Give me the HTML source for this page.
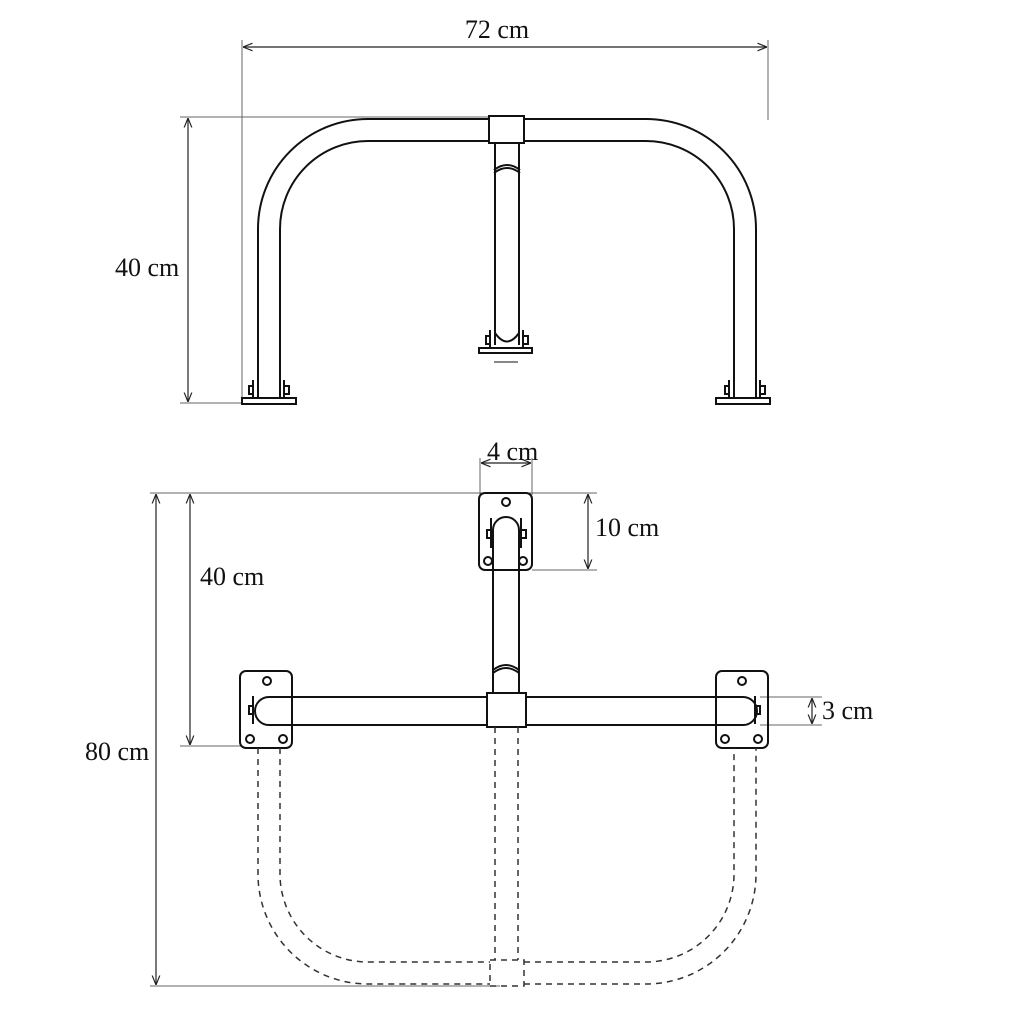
<!DOCTYPE html>
<html><head><meta charset="utf-8"><style>
html,body{margin:0;padding:0;background:#fff;}
svg{display:block;}
text{font-family:"Liberation Serif",serif;font-size:26px;fill:#111;}
</style></head><body>
<svg width="1024" height="1024" viewBox="0 0 1024 1024" xmlns="http://www.w3.org/2000/svg">
<defs>
<marker id="a" viewBox="0 0 10 10" refX="10" refY="5" markerWidth="8" markerHeight="8" orient="auto-start-reverse"><path d="M0,1 L10,5 L0,9" fill="none" stroke="#222" stroke-width="1.2"/></marker>
</defs>
<g stroke="#666" stroke-width="1" fill="none">
<line x1="242" y1="40" x2="242" y2="405"/>
<line x1="768" y1="40" x2="768" y2="120"/>
<line x1="180" y1="117" x2="490" y2="117"/>
<line x1="180" y1="403" x2="242" y2="403"/>
<line x1="480" y1="458" x2="480" y2="495"/>
<line x1="532" y1="458" x2="532" y2="495"/>
<line x1="150" y1="493" x2="597" y2="493"/>
<line x1="532" y1="570" x2="597" y2="570"/>
<line x1="180" y1="746" x2="242" y2="746"/>
<line x1="150" y1="986" x2="500" y2="986"/>
<line x1="760" y1="697" x2="822" y2="697"/>
<line x1="760" y1="725" x2="822" y2="725"/>
</g>
<g stroke="#222" stroke-width="1.2" fill="none">
<line x1="243" y1="47" x2="767" y2="47" marker-start="url(#a)" marker-end="url(#a)"/>
<line x1="188" y1="118" x2="188" y2="402" marker-start="url(#a)" marker-end="url(#a)"/>
<line x1="481" y1="463" x2="531" y2="463" marker-start="url(#a)" marker-end="url(#a)"/>
<line x1="588" y1="494" x2="588" y2="569" marker-start="url(#a)" marker-end="url(#a)"/>
<line x1="190" y1="494" x2="190" y2="745" marker-start="url(#a)" marker-end="url(#a)"/>
<line x1="156" y1="494" x2="156" y2="985" marker-start="url(#a)" marker-end="url(#a)"/>
<line x1="812" y1="698" x2="812" y2="724" marker-start="url(#a)" marker-end="url(#a)"/>
</g>
<text x="497" y="38" text-anchor="middle">72 cm</text>
<text x="115" y="276">40 cm</text>
<text x="487" y="460">4 cm</text>
<text x="595" y="536">10 cm</text>
<text x="200" y="585">40 cm</text>
<text x="85" y="760">80 cm</text>
<text x="822" y="719">3 cm</text>

<g stroke="#111" stroke-width="2" fill="none">
<path d="M258,398 L258,229 A110,110 0 0 1 368,119 L489,119 M524,119 L646,119 A110,110 0 0 1 756,229 L756,398"/>
<path d="M280,398 L280,229 A88,88 0 0 1 368,141 L489,141 M524,141 L646,141 A88,88 0 0 1 734,229 L734,398"/>
<rect x="489" y="116" width="35" height="27" fill="#fff"/>
<line x1="495" y1="143" x2="495" y2="345"/>
<line x1="519" y1="143" x2="519" y2="345"/>
<path d="M494,170 Q507,160 520,170 M494,173 Q507,163 520,173"/>
<path d="M495,333 Q507,350 519,333"/>
<rect x="242" y="398" width="54" height="6"/>
<rect x="716" y="398" width="54" height="6"/>
<rect x="479" y="348" width="53" height="5"/>
<line x1="494" y1="362" x2="518" y2="362" stroke-width="1"/>
<path d="M253,380 v18 M284,380 v18 M249,386 h4 v8 h-4z M284,386 h5 v8 h-5z"/>
<path d="M729,380 v18 M760,380 v18 M725,386 h4 v8 h-4z M760,386 h5 v8 h-5z"/>
<path d="M490,330 v18 M523,330 v18 M486,336 h4 v8 h-4z M523,336 h5 v8 h-5z"/>

<rect x="479" y="493" width="53" height="77" rx="6"/>
<circle cx="506" cy="502" r="4"/><circle cx="488" cy="561" r="4"/><circle cx="523" cy="561" r="4"/>
<path d="M493,693 L493,530 A13,13 0 0 1 519,530 L519,693"/>
<path d="M491,518 v30 M521,518 v30 M487,530 h4 v8 h-4z M521,530 h5 v8 h-5z"/>
<path d="M493,670 Q506,660 519,670 M493,673 Q506,663 519,673"/>

<rect x="240" y="671" width="52" height="77" rx="6"/>
<circle cx="267" cy="681" r="4"/><circle cx="250" cy="739" r="4"/><circle cx="283" cy="739" r="4"/>
<rect x="716" y="671" width="52" height="77" rx="6"/>
<circle cx="742" cy="681" r="4"/><circle cx="725" cy="739" r="4"/><circle cx="758" cy="739" r="4"/>

<path d="M487,697 L269,697 A14,14 0 0 0 269,725 L487,725"/>
<path d="M526,697 L743,697 A14,14 0 0 1 743,725 L526,725"/>
<rect x="487" y="693" width="39" height="34" fill="#fff"/>
<path d="M253,696 v28 M249,706 h4 v8 h-4z"/>
<path d="M755,696 v28 M755,706 h5 v8 h-5z"/>
</g>
<g stroke="#333" stroke-width="1.5" fill="none" stroke-dasharray="6,5">
<path d="M258,748 L258,874 A110,110 0 0 0 368,984 L490,984 M524,984 L646,984 A110,110 0 0 0 756,874 L756,748"/>
<path d="M280,748 L280,874 A88,88 0 0 0 368,962 L490,962 M524,962 L646,962 A88,88 0 0 0 734,874 L734,748"/>
<line x1="495" y1="727" x2="495" y2="960"/>
<line x1="518" y1="727" x2="518" y2="960"/>
<rect x="490" y="960" width="34" height="26"/>
</g>
</svg>
</body></html>
